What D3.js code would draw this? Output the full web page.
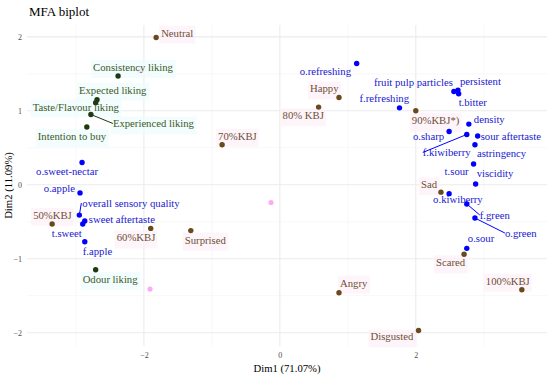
<!DOCTYPE html>
<html>
<head>
<meta charset="utf-8">
<script src="https://cdn.jsdelivr.net/npm/d3@7"></script>
<style>
  body { margin: 0; background: #fff; }
  svg { display: block; font-family: "Liberation Serif", "Times New Roman", serif; }
</style>
</head>
<body>
<div id="chart"></div>
<script>
// variable names, coordinates and groups
const sensoryNames = ['o.refreshing', 'f.refreshing', 'fruit pulp particles', 'persistent', 't.bitter',
    'density', 'o.sharp', 'f.kiwiberry', 'sour aftertaste', 'astringency', 't.sour', 'viscidity',
    'o.kiwiberry', 'f.green', 'o.green', 'o.sour', 'o.sweet-nectar', 'o.apple',
    'overall sensory quality', 'sweet aftertaste', 't.sweet', 'f.apple'];
const sensoryX = [1.13, 1.76, 2.56, 2.62, 2.63, 2.78, 2.49, 2.75, 2.91, 2.87, 2.85, 2.88,
    2.49, 2.75, 2.87, 2.75, -2.91, -2.94, -2.95, -2.87, -2.90, -2.87];
const sensoryY = [1.64, 1.04, 1.26, 1.28, 1.23, 0.82, 0.72, 0.68, 0.66, 0.54, 0.28, 0.01,
    -0.12, -0.26, -0.45, -0.86, 0.30, -0.11, -0.41, -0.49, -0.53, -0.77];

const likingNames = ['Consistency liking', 'Expected liking', 'Taste/Flavour liking',
    'Experienced liking', 'Intention to buy', 'Odour liking'];
const likingX = [-2.38, -2.69, -2.71, -2.78, -2.84, -2.71];
const likingY = [1.47, 1.15, 1.11, 0.95, 0.78, -1.15];

const emotionNames = ['Neutral', '70%KBJ', 'Happy', '80% KBJ', '90%KBJ*)', '50%KBJ', '60%KBJ',
    'Surprised', 'Sad', 'Scared', '100%KBJ', 'Angry', 'Disgusted'];
const emotionX = [-1.82, -0.85, 0.87, 0.57, 2.00, -3.35, -1.90, -1.31, 2.37, 2.71, 3.56, 0.87, 2.04];
const emotionY = [1.99, 0.54, 1.18, 1.05, 1.00, -0.53, -0.59, -0.62, -0.10, -0.94, -1.42, -1.46, -1.97];

// faint supplementary points
const suppX = [-2.06, -0.13, -1.91];
const suppY = [1.54, -0.24, -1.41];

const xTicks = [-2, 0, 2];
const yTicks = [-2, -1, 0, 1, 2];
const xMinor = [-3, -1, 1, 3];
const yMinor = [-1.5, -0.5, 0.5, 1.5];

// label placement (pixel offsets from the point: text start x, baseline y, anchor, leader line)
const labelPos = {
    'o.refreshing': [-57, 12], 'f.refreshing': [-40, -6], 'fruit pulp particles': [-1, -6, 'end'],
    'persistent': [2, -5], 't.bitter': [0, 12], 'density': [5, -1], 'o.sharp': [-5, 8, 'end'],
    'f.kiwiberry': [-44, 22, 'start', true], 'sour aftertaste': [3, 4], 'astringency': [2, 12],
    't.sour': [-29, 11], 'viscidity': [1, -7], 'o.kiwiberry': [-16, 9], 'f.green': [13, 15, 'start', true],
    'o.green': [30, 19, 'start', true], 'o.sour': [1, -6], 'o.sweet-nectar': [-46, 12],
    'o.apple': [-5, -1, 'end'], 'overall sensory quality': [3, -8, 'start', true],
    'sweet aftertaste': [4, 2], 't.sweet': [-31, 13], 'f.apple': [-2, 13],
    'Consistency liking': [-25, -5], 'Expected liking': [-18, -6], 'Taste/Flavour liking': [-63, 8],
    'Experienced liking': [22, 13, 'start', true], 'Intention to buy': [-49, 13], 'Odour liking': [-13, 13],
    'Neutral': [5, -1], '70%KBJ': [-4, -5], 'Happy': [-29, -5], '80% KBJ': [-36, 12],
    '90%KBJ*)': [-4, 13], '50%KBJ': [-19, -5], '60%KBJ': [-34, 13], 'Surprised': [-6, 13],
    'Sad': [-20, -4], 'Scared': [-28, 12], '100%KBJ': [-36, -5], 'Angry': [1, -6], 'Disgusted': [-48, 10]
};

const groups = [
    { names: likingNames, xs: likingX, ys: likingY, point: '#1f3a12', text: '#3b5a29', box: '#eefcfc' },
    { names: emotionNames, xs: emotionX, ys: emotionY, point: '#6a4a1c', text: '#6e4f35', box: '#fdf1f9' },
    { names: sensoryNames, xs: sensoryX, ys: sensoryY, point: '#0000ff', text: '#2020d0', box: null }
];

const width = 550, height = 381;
const panel = { left: 27, right: 547, top: 25, bottom: 346 };

const svg = d3.select('#chart').append('svg')
    .attr('width', width)
    .attr('height', height);

const x = d3.scaleLinear().domain([-3.72, 3.93]).range([panel.left, panel.right]);
const y = d3.scaleLinear().domain([-2.18, 2.16]).range([panel.bottom, panel.top]);

// grid
const grid = svg.append('g');
grid.selectAll('.minor-v').data(xMinor).enter().append('line')
    .attr('x1', d => x(d)).attr('x2', d => x(d))
    .attr('y1', panel.top).attr('y2', panel.bottom)
    .attr('stroke', '#f3f3f3').attr('stroke-width', 0.6);
grid.selectAll('.minor-h').data(yMinor).enter().append('line')
    .attr('x1', panel.left).attr('x2', panel.right)
    .attr('y1', d => y(d)).attr('y2', d => y(d))
    .attr('stroke', '#f3f3f3').attr('stroke-width', 0.6);
grid.selectAll('.major-v').data(xTicks).enter().append('line')
    .attr('x1', d => x(d)).attr('x2', d => x(d))
    .attr('y1', panel.top).attr('y2', panel.bottom)
    .attr('stroke', '#ebebeb').attr('stroke-width', 1.1);
grid.selectAll('.major-h').data(yTicks).enter().append('line')
    .attr('x1', panel.left).attr('x2', panel.right)
    .attr('y1', d => y(d)).attr('y2', d => y(d))
    .attr('stroke', '#ebebeb').attr('stroke-width', 1.1);

// axes (no lines, just labels)
const xAxis = svg.append('g')
    .attr('transform', `translate(0,${panel.bottom})`)
    .call(d3.axisBottom(x).tickValues(xTicks).tickSize(0).tickPadding(6).tickFormat(d => d < 0 ? '\u2212' + Math.abs(d) : d));
const yAxis = svg.append('g')
    .attr('transform', `translate(${panel.left},0)`)
    .call(d3.axisLeft(y).tickValues(yTicks).tickSize(0).tickPadding(5).tickFormat(d => d < 0 ? '\u2212' + Math.abs(d) : d));
[xAxis, yAxis].forEach(a => {
    a.select('.domain').remove();
    a.selectAll('text')
        .style('font-family', '"Liberation Serif", serif')
        .style('font-size', '8px')
        .attr('fill', '#4d4d4d');
});

// supplementary faint points
svg.selectAll('.supp').data(suppX).enter().append('circle')
    .attr('cx', d => x(d)).attr('cy', (d, i) => y(suppY[i]))
    .attr('r', 2.6).attr('fill', '#ff8ef0').attr('opacity', 0.75);

// label backgrounds + leader lines + points + labels
const labelLayer = svg.append('g');
const pointLayer = svg.append('g');
groups.forEach(g => {
    g.names.forEach((name, i) => {
        const px = x(g.xs[i]), py = y(g.ys[i]);
        const pos = labelPos[name];
        const anchor = pos[2] || 'start';
        const t = labelLayer.append('text')
            .attr('x', px + pos[0]).attr('y', py + pos[1])
            .attr('text-anchor', anchor)
            .attr('font-size', '10.7px')
            .attr('fill', g.text)
            .text(name);
        if (g.box) {
            const b = t.node().getBBox();
            labelLayer.insert('rect', 'text')
                .attr('x', b.x - 2).attr('y', b.y - 1)
                .attr('width', b.width + 4).attr('height', b.height + 6)
                .attr('fill', g.box).attr('opacity', 0.7);
        }
        if (pos[3]) {
            const b = t.node().getBBox();
            let lx = anchor === 'start' ? b.x : b.x + b.width;
            let ly = b.y + b.height / 2;
            if (name === 'overall sensory quality') { lx = px + 2; ly = py - 12; }
            labelLayer.append('line')
                .attr('x1', px).attr('y1', py).attr('x2', lx).attr('y2', ly)
                .attr('stroke', g.point)
                .attr('stroke-width', 1);
        }
        pointLayer.append('circle')
            .attr('cx', px).attr('cy', py).attr('r', 2.7)
            .attr('fill', g.point);
    });
});

// title and axis titles
svg.append('text')
    .attr('x', 29).attr('y', 16)
    .attr('font-size', '13px').attr('fill', '#000')
    .text('MFA biplot');
svg.append('text')
    .attr('x', (panel.left + panel.right) / 2).attr('y', 372)
    .attr('text-anchor', 'middle')
    .attr('font-size', '10.7px').attr('fill', '#000')
    .text('Dim1 (71.07%)');
svg.append('text')
    .attr('transform', `translate(12,${(panel.top + panel.bottom) / 2}) rotate(-90)`)
    .attr('text-anchor', 'middle')
    .attr('font-size', '10.7px').attr('fill', '#000')
    .text('Dim2 (11.09%)');
</script>
</body>
</html>
